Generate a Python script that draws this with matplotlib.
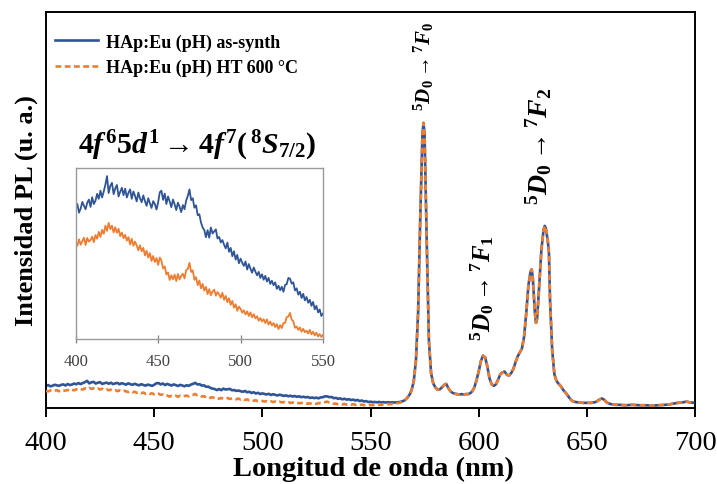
import numpy as np
import matplotlib
matplotlib.use("Agg")
import matplotlib.pyplot as plt

plt.rcParams["font.family"] = ["Liberation Serif", "DejaVu Serif"]
plt.rcParams["mathtext.fontset"] = "custom"
plt.rcParams["mathtext.rm"] = "Liberation Serif:bold"
plt.rcParams["mathtext.bf"] = "Liberation Serif:bold"
plt.rcParams["mathtext.it"] = "Liberation Serif:italic:bold"

# --- PL spectra (arbitrary units), 1 nm steps from 400 to 565 nm -------------
wl_start, wl_stop = 400, 565

pl_as_synth = [
    55.8, 57.9, 54.6, 56.1, 58.7, 57.2, 55.9, 58.4, 59.6, 56.8,
    60.5, 57.9, 59.2, 61.8, 59.9, 63.0, 60.4, 62.7, 65.3, 68.6,
    62.1, 64.9, 66.0, 61.7, 63.9, 65.2, 60.8, 62.6, 64.1, 61.3,
    63.8, 60.4, 62.2, 63.5, 59.9, 62.7, 61.0, 58.9, 62.3, 60.1,
    58.6, 61.2, 59.0, 57.2, 60.1, 58.3, 56.4, 59.0, 57.9, 55.8,
    58.5, 62.4, 63.0, 59.5, 61.9, 57.9, 60.8, 58.9, 56.7, 59.6,
    57.8, 55.6, 58.4, 56.9, 54.8, 57.5, 55.9, 59.2, 61.0, 63.5,
    59.4, 60.1, 56.5, 57.4, 53.6, 54.0, 50.8, 48.9, 47.9, 45.2,
    47.9, 45.0, 48.9, 46.6, 47.4, 48.2, 44.7, 45.3, 43.2, 44.1,
    42.3, 40.9, 43.1, 39.6, 41.1, 37.9, 39.8, 36.6, 38.4, 35.2,
    37.0, 35.4, 34.2, 35.9, 32.8, 34.9, 33.1, 31.6, 33.6, 32.0,
    30.6, 31.9, 29.6, 31.0, 28.9, 30.4, 28.2, 29.6, 27.3, 28.5,
    26.8, 27.9, 25.4, 26.6, 24.9, 26.2, 24.3, 26.9, 27.2, 29.6,
    29.3, 27.4, 27.9, 24.8, 25.6, 23.2, 24.3, 21.9, 23.5, 21.0,
    22.3, 20.1, 21.2, 18.9, 20.4, 17.6, 18.9, 16.4, 17.5, 15.0,
    16.0, 14.7, 15.2, 14.3, 15.4, 14.0, 14.9, 13.8, 14.7, 14.0,
    14.4, 13.9, 14.2, 14.7, 15.6, 17.5,
]

pl_ht600 = [
    43.0, 41.9, 44.4, 42.3, 43.7, 45.0, 42.2, 44.9, 43.5, 44.1,
    45.4, 43.3, 46.0, 44.6, 47.2, 45.3, 48.0, 46.5, 49.6, 47.6,
    50.7, 48.3, 49.6, 47.0, 49.0, 46.9, 48.4, 45.6, 47.0, 44.8,
    46.1, 43.9, 45.2, 42.4, 44.6, 41.9, 43.5, 42.0, 40.2, 42.1,
    39.8, 41.1, 38.2, 40.0, 37.4, 39.1, 36.1, 38.0, 35.7, 37.2,
    34.6, 37.4, 36.2, 33.2, 34.0, 30.9, 31.7, 28.8, 30.6, 29.1,
    30.9, 28.4, 31.1, 29.0, 30.4, 31.2, 29.4, 32.6, 33.0, 35.4,
    31.9, 32.5, 28.9, 29.9, 26.8, 28.6, 25.6, 27.3, 24.7, 26.2,
    23.4, 25.3, 23.0, 24.4, 25.1, 22.8, 24.2, 23.3, 22.0, 23.9,
    21.2, 22.7, 20.3, 21.8, 19.3, 20.8, 18.2, 19.5, 17.0, 18.6,
    17.8, 16.3, 17.2, 15.6, 16.8, 15.0, 16.4, 14.5, 15.7, 14.1,
    14.9, 13.2, 14.2, 12.9, 13.8, 12.3, 13.7, 11.7, 12.9, 11.4,
    12.3, 10.8, 11.9, 10.0, 11.5, 10.4, 12.3, 12.4, 14.6, 14.8,
    16.2, 13.6, 13.0, 10.5, 11.0, 9.7, 10.6, 9.0, 10.1, 8.8,
    9.4, 8.3, 9.7, 8.0, 9.0, 7.6, 8.6, 7.2, 8.1, 7.0,
    7.8, 7.1, 8.0, 7.3, 8.3, 7.8, 9.0, 8.7, 9.9, 9.6,
    10.6, 11.0, 12.0, 12.7, 14.1, 16.5,
]

# Eu3+ emission region (both samples coincide), 566-700 nm
wl_eu = [
    566, 567, 568, 569, 570, 571, 572, 573, 574, 574.5, 575, 576, 577, 578, 579,
    580, 581, 582, 583, 584, 585, 586, 587, 588, 589, 590, 591, 592, 593, 594,
    595, 596, 597, 598, 599, 600, 601, 602, 603, 604, 605, 606, 607, 608, 609,
    610, 611, 612, 613, 614, 615, 616, 617, 618, 619, 620, 621, 622, 623, 624,
    624.5, 625, 626, 626.5, 627, 628, 629, 630, 630.5, 631, 632, 632.5, 633, 634,
    635, 636, 637, 638, 639, 640, 641, 642, 643, 644, 645, 646, 648, 650, 652,
    654, 655, 656, 657, 658, 659, 660, 661, 663, 665, 668, 671, 674, 677, 680,
    683, 686, 688, 690, 692, 694, 696, 698, 700,
]
pl_eu = [
    20, 26, 33, 45, 68, 120, 240, 480, 690, 720, 690, 420, 170, 88, 62,
    52, 46, 47, 52, 58, 61, 50, 42, 38, 36, 35, 34, 35, 34, 35,
    35, 37, 42, 52, 70, 92, 118, 132, 128, 105, 75, 60, 56, 60, 72,
    85, 90, 92, 84, 82, 88, 98, 115, 130, 140, 150, 180, 240, 310, 345,
    350, 330, 240, 215, 225, 310, 400, 450, 460, 455, 420, 390, 270, 145,
    85, 68, 61, 55, 46, 40, 33, 25, 19, 16, 15, 14, 13, 13, 13,
    15, 18, 22, 24, 21, 15, 12, 10, 8, 8, 7, 8, 7, 7, 6,
    7, 8, 9, 11, 13, 14, 16, 14, 13,
]

tick_main = [400, 450, 500, 550, 600, 650, 700]
tick_inset = [400, 450, 500, 550]

labels = ["HAp:Eu (pH) as-synth", "HAp:Eu (pH) HT 600 °C"]
transitions = [
    (574.5, 864, r"${}^{5}D_0 \rightarrow {}^{7}F_0$", 15),
    (601.4, 306, r"${}^{5}D_0 \rightarrow {}^{7}F_1$", 18),
    (627.8, 664, r"${}^{5}D_0 \rightarrow {}^{7}F_2$", 20),
]

blue = "#2F5597"
orange = "#ED7D31"

wl = np.concatenate([np.arange(wl_start, wl_stop + 1), wl_eu])
y_as = np.concatenate([pl_as_synth, pl_eu])
y_ht = np.concatenate([pl_ht600, pl_eu])

fig = plt.figure(figsize=(7.17, 4.85), dpi=100)
W, H = 717, 485
ax = fig.add_axes([46 / W, 1 - 409 / H, (695 - 46) / W, (409 - 13) / H])

ax.plot(wl, y_as, color=blue, lw=1.9, label=labels[0], zorder=2)
ax.plot(wl, y_ht, color=orange, lw=1.9, ls=(0, (2.2, 1.3)), label=labels[1], zorder=3)

ax.set_xlim(400, 700)
ax.set_ylim(0, 1000)
ax.set_xticks(tick_main)
ax.set_yticks([])
ax.tick_params(axis="x", direction="out", length=6.5, width=1.4, labelsize=20.5, pad=9)
for s in ax.spines.values():
    s.set_linewidth(1.4)
    s.set_color("black")

ax.set_xlabel("Longitud de onda (nm)", fontsize=20.5, fontweight="bold")
ax.xaxis.set_label_coords(0.505, -0.122)
ax.set_ylabel("Intensidad PL (u. a.)", fontsize=19, fontweight="bold")
ax.yaxis.set_label_coords(-0.013, 0.5)

leg = ax.legend(loc="upper left", bbox_to_anchor=(0.005, 0.96), frameon=False,
                prop={"weight": "bold", "size": 13}, handlelength=2.4,
                handletextpad=0.45, labelspacing=0.45, borderaxespad=0, borderpad=0.3)

for x, y, txt, fs in transitions:
    ax.text(x, y, txt, rotation=90, ha="center", va="center", fontsize=fs)

# inset: broad 4f65d1 -> 4f7 band
axi = fig.add_axes([75.7 / W, 1 - 340 / H, (323 - 75.7) / W, (340 - 169) / H])
axi.plot(wl, y_as, color=blue, lw=1.3)
axi.plot(wl, y_ht, color=orange, lw=1.3)
axi.set_xlim(400, 550)
axi.set_ylim(6.2, 71.7)
axi.set_xticks(tick_inset)
axi.set_yticks([])
axi.tick_params(axis="x", direction="inout", length=6, width=0.9, color="#808080",
                labelsize=12, labelcolor="#404040", pad=7)
for s in axi.spines.values():
    s.set_color("#9a9a9a")
    s.set_linewidth(1.0)

fig.text(197 / W, 1 - 146 / H, r"$4f^{6}5d^{1} \rightarrow 4f^{7}(\,{}^{8}S_{7/2})$",
         ha="center", va="center", fontsize=21.5)

fig.savefig("out.png", dpi=100)
